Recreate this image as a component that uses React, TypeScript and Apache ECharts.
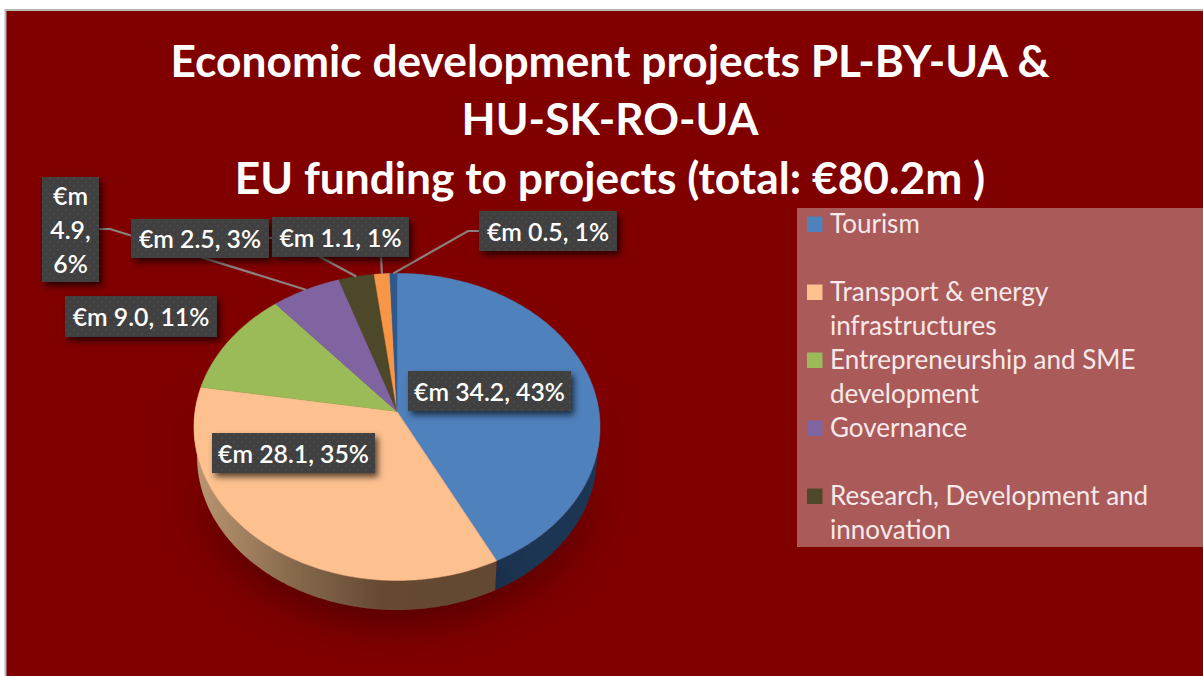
import React, { useEffect, useRef } from "react";
import * as echarts from "echarts";

const titleLines = [
  "Economic development projects PL-BY-UA &",
  "HU-SK-RO-UA",
  "EU funding to projects (total: €80.2m )",
];
const categories = [
  "Tourism",
  "Transport & energy\ninfrastructures",
  "Entrepreneurship and SME\ndevelopment",
  "Governance",
  "Research, Development and\ninnovation",
  "Other (orange)",
  "Other (dark blue)",
];
const values = [34.2, 28.1, 9.0, 4.9, 2.5, 1.1, 0.5];
const legendCount = 5;
const legendRows = [0, 2, 4, 6, 8];

const topColors = ["#4f81bd", "#fdc08f", "#9bbb59", "#8064a2", "#4d4829", "#f79646", "#2c5a8f"];
const total = values.reduce((a, b) => a + b, 0);

// perspective pie geometry
const CX = 397, CY = 411.5, DX = 202, DY = 152, K = 0.1006;
const DEPTH = 29.5, BOTTOM_SCALE = 0.985;
const project = (deg: number): [number, number] => {
  const t = (deg * Math.PI) / 180;
  const u = Math.sin(t), v = -Math.cos(t), w = 1 - K * v;
  return [CX + (DX * u) / w, CY + (DY * v) / w];
};
const lower = (p: [number, number]): [number, number] => [CX + (p[0] - CX) * BOTTOM_SCALE, p[1] + DEPTH];
const startDeg = (i: number) => (values.slice(0, i).reduce((a, b) => a + b, 0) / total) * 360;
const arc = (a: number, b: number) => {
  const pts: [number, number][] = [];
  const n = Math.max(2, Math.ceil(Math.abs(b - a)));
  for (let i = 0; i <= n; i++) pts.push(project(a + ((b - a) * i) / n));
  return pts;
};

// label boxes [x, y, w, h], leader line start points
const labelBoxes = [
  [408, 371, 163, 40],
  [212, 433, 163, 40],
  [65, 296, 152, 41],
  [42, 177, 57, 105],
  [131, 219, 138, 39],
  [272, 217, 137, 40],
  [479, 211, 138, 40],
];
const leaderStarts: (number[][] | null)[] = [
  null,
  null,
  null,
  [[99, 229], [110, 229]],
  [[269, 238], [285, 238]],
  [[381, 257]],
  [[479, 231], [468, 231]],
];

const dotSvg =
  "data:image/svg+xml;utf8," +
  encodeURIComponent(
    '<svg xmlns="http://www.w3.org/2000/svg" width="8" height="8"><rect width="8" height="8" fill="#3f3f3f"/><circle cx="2" cy="2" r="1" fill="#4e4e4e"/><circle cx="6" cy="6" r="1" fill="#4a4a4a"/></svg>'
  );

const labelText = (i: number) => {
  const s = `€m ${values[i].toFixed(1)}, ${Math.round((values[i] / total) * 100)}%`;
  return i === 3 ? s.replace(/ /g, "\n") : s;
};

const seriesData = values.map((v, i) => ({ name: categories[i], value: v }));

export default function App() {
  const ref = useRef<HTMLDivElement>(null);
  useEffect(() => {
    document.body.style.margin = "0";
    document.body.style.background = "#ffffff";
    const chart = echarts.init(ref.current!, null, { renderer: "svg" });

    const legendGraphics: any[] = [];
    categories.slice(0, legendCount).forEach((c, i) => {
      const y = 224 + 34 * legendRows[i];
      legendGraphics.push({
        type: "rect", z: 3,
        shape: { x: 807, y: y - 7.5, width: 15.5, height: 15.5 },
        style: { fill: topColors[i] },
      });
      legendGraphics.push({
        type: "text", z: 3,
        style: {
          x: 830, y: y - 18, text: c, fill: "#f6e9e9",
          font: '26px Lato, "Open Sans", sans-serif', lineHeight: 34,
          verticalAlign: "top", align: "left",
        },
      });
    });

    chart.setOption({
      animation: false,
      backgroundColor: "#ffffff",
      title: {
        text: titleLines.join("\n"),
        left: 605, top: 25, textAlign: "center",
        textStyle: {
          color: "#ffffff", fontFamily: "Lato, sans-serif", fontWeight: "bold",
          fontSize: 44.3, lineHeight: 58.5,
        },
        z: 6,
      },
      graphic: [
        {
          type: "rect", z: -5,
          shape: { x: 5.5, y: 10, width: 1210, height: 680 },
          style: { fill: "#800000", stroke: "#b8b8b8", lineWidth: 2 },
        },
        {
          type: "rect", z: 1,
          shape: { x: 797, y: 208, width: 410, height: 339 },
          style: { fill: "#ab5a5a" },
        },
        ...legendGraphics,
      ],
      series: [
        {
          type: "custom", name: "sides", coordinateSystem: "none", z: 2, silent: true,
          data: seriesData,
          renderItem: (p: any) => {
            const i = p.dataIndex;
            const a = startDeg(i), b = i === values.length - 1 ? 360 : startDeg(i + 1);
            const from = Math.max(a, 85), to = Math.min(b, 275);
            if (from >= to) return { type: "group", children: [] };
            const top = arc(from, to);
            const points = [...top, ...top.slice().reverse().map(lower)];
            const fill =
              i === 1
                ? new echarts.graphic.LinearGradient(0, 0, 1, 0, [
                    { offset: 0, color: "#bb9772" },
                    { offset: 0.33, color: "#86694c" },
                    { offset: 0.62, color: "#654a33" },
                    { offset: 1, color: "#634933" },
                  ])
                : "#1f3552";
            const shadow =
              i === 0 || i === 1
                ? { shadowBlur: 42, shadowColor: "rgba(0,0,0,0.5)", shadowOffsetY: 8 }
                : {};
            return { type: "polygon", shape: { points }, style: { fill, ...shadow } };
          },
        },
        {
          type: "custom", name: "slices", coordinateSystem: "none", z: 3, silent: true,
          data: seriesData,
          renderItem: (p: any) => {
            const i = p.dataIndex;
            const a = startDeg(i), b = i === values.length - 1 ? 360 : startDeg(i + 1);
            const points = [[CX, CY], ...arc(a, b)];
            return {
              type: "polygon", shape: { points },
              style: { fill: topColors[i], stroke: topColors[i], lineWidth: 0.5 },
            };
          },
        },
        {
          type: "custom", name: "leaders", coordinateSystem: "none", z: 4, silent: true,
          data: seriesData,
          renderItem: (p: any) => {
            const i = p.dataIndex;
            const st = leaderStarts[i];
            if (!st) return { type: "group", children: [] };
            const a = startDeg(i), b = i === values.length - 1 ? 360 : startDeg(i + 1);
            return {
              type: "polyline",
              shape: { points: [...st, project((a + b) / 2)] },
              style: { fill: "none", stroke: "#8c8080", lineWidth: 2.2 },
            };
          },
        },
        {
          type: "custom", name: "labels", coordinateSystem: "none", z: 5, silent: true,
          data: seriesData,
          renderItem: (p: any) => {
            const i = p.dataIndex;
            const [x, y, w, h] = labelBoxes[i];
            return {
              type: "group",
              children: [
                {
                  type: "rect",
                  shape: { x, y, width: w, height: h },
                  style: {
                    fill: { type: "pattern", image: dotSvg, imageWidth: 8, imageHeight: 8, repeat: "repeat" },
                    shadowBlur: 6, shadowColor: "rgba(0,0,0,0.65)", shadowOffsetX: 3, shadowOffsetY: 4,
                  },
                },
                {
                  type: "text",
                  style: {
                    x: x + w / 2, y: y + h / 2, text: labelText(i), fill: "#ffffff",
                    font: '600 24.8px Lato, "Open Sans", sans-serif', lineHeight: 34,
                    align: "center", verticalAlign: "middle",
                  },
                },
              ],
            };
          },
        },
      ],
    });
    return () => chart.dispose();
  }, []);
  return <div ref={ref} style={{ position: "fixed", left: 0, top: 0, width: 1203, height: 676 }} />;
}
